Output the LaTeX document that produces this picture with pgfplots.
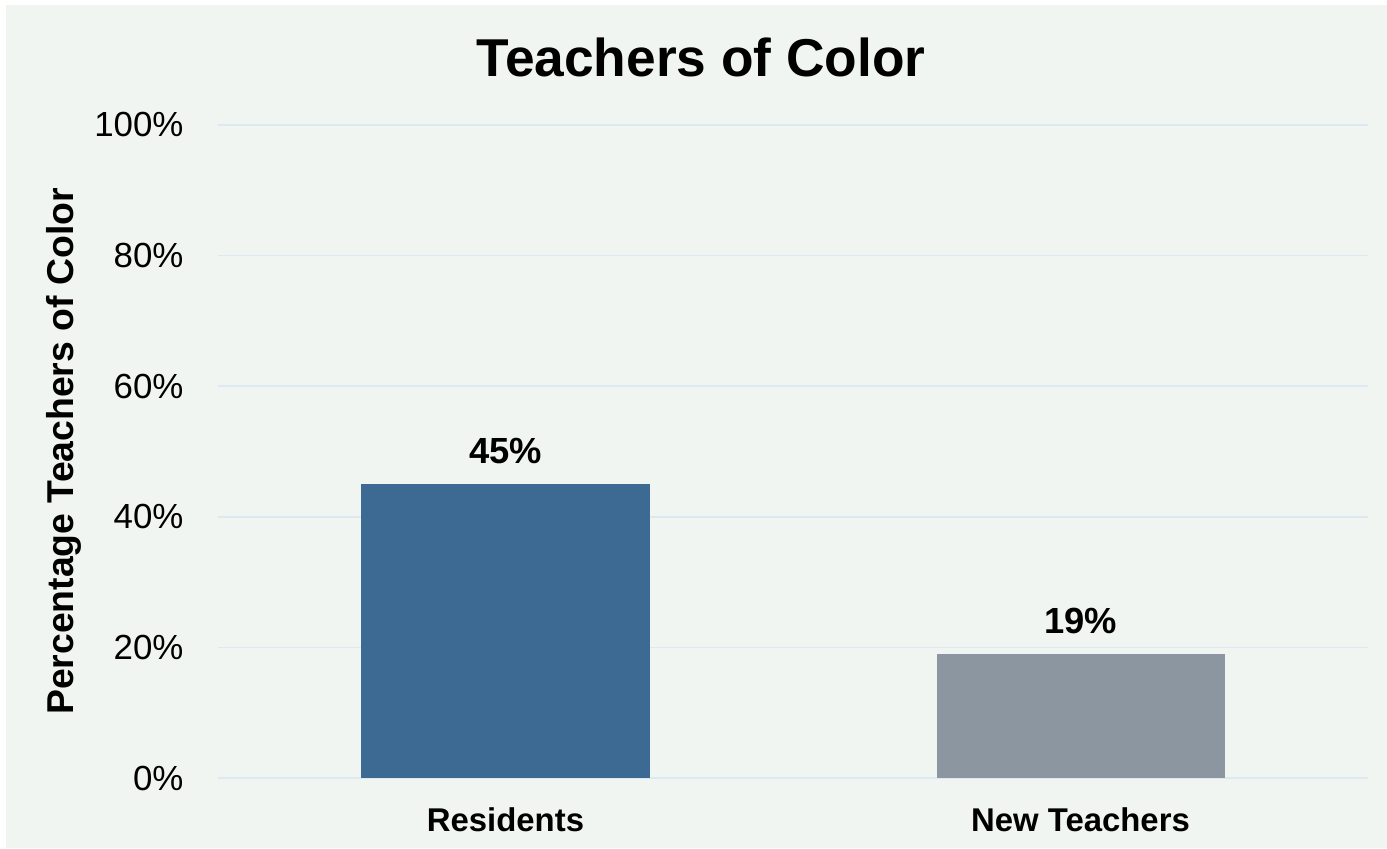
\documentclass[border=0pt]{standalone}
\usepackage{pgfplots}
\pgfplotsset{compat=1.18}
\usepackage{fontspec}
\setmainfont{Liberation Sans}
\definecolor{bg}{HTML}{F1F5F1}
\definecolor{gridc}{HTML}{DCE9F1}
\definecolor{barblue}{HTML}{3D6A92}
\definecolor{bargray}{HTML}{8C96A0}
\begin{document}
\begin{tikzpicture}[x=1bp,y=1bp]
\useasboundingbox (-218,-70) rectangle (1169,778);
\fill[white] (-218,-70) rectangle (1169,778);
\fill[bg] (-212,-70) rectangle (1169,773);
\begin{axis}[
  at={(0,0)}, anchor=south west,
  scale only axis, width=1150bp, height=653bp,
  xmin=-0.5, xmax=1.5, ymin=0, ymax=100,
  ytick={0,20,40,60,80,100},
  yticklabel={\pgfmathprintnumber{\tick}\%},
  /pgf/number format/assume math mode=true,
  xtick={0,1}, xticklabels={Residents,New Teachers},
  axis line style={draw=none},
  major tick length=0pt,
  ymajorgrids, grid style={color=gridc, line width=1.5bp},
  yticklabel style={font=\fontsize{35}{40}\selectfont, xshift=-31bp},
  xticklabel style={font=\bfseries\fontsize{33}{38}\selectfont, yshift=-26bp},
  every axis y label/.style={at={(axis description cs:-0.1343,0.5)}, anchor=center, rotate=90, font=\bfseries\fontsize{37.5}{42}\selectfont},
  ylabel={Percentage Teachers of Color},
  ybar, bar shift=0pt, bar width=288bp,
  nodes near coords={\pgfmathprintnumber{\pgfplotspointmeta}\%},
  every node near coord/.append style={anchor=center, yshift=33bp, font=\bfseries\fontsize{36.5}{42}\selectfont, text=black},
]
\addplot[fill=barblue, draw=none] coordinates {(0,45)};
\addplot[fill=bargray, draw=none] coordinates {(1,19)};
\end{axis}
\node[font=\bfseries\fontsize{53.5}{60}\selectfont] at (483,721) {Teachers of Color};
\end{tikzpicture}
\end{document}
